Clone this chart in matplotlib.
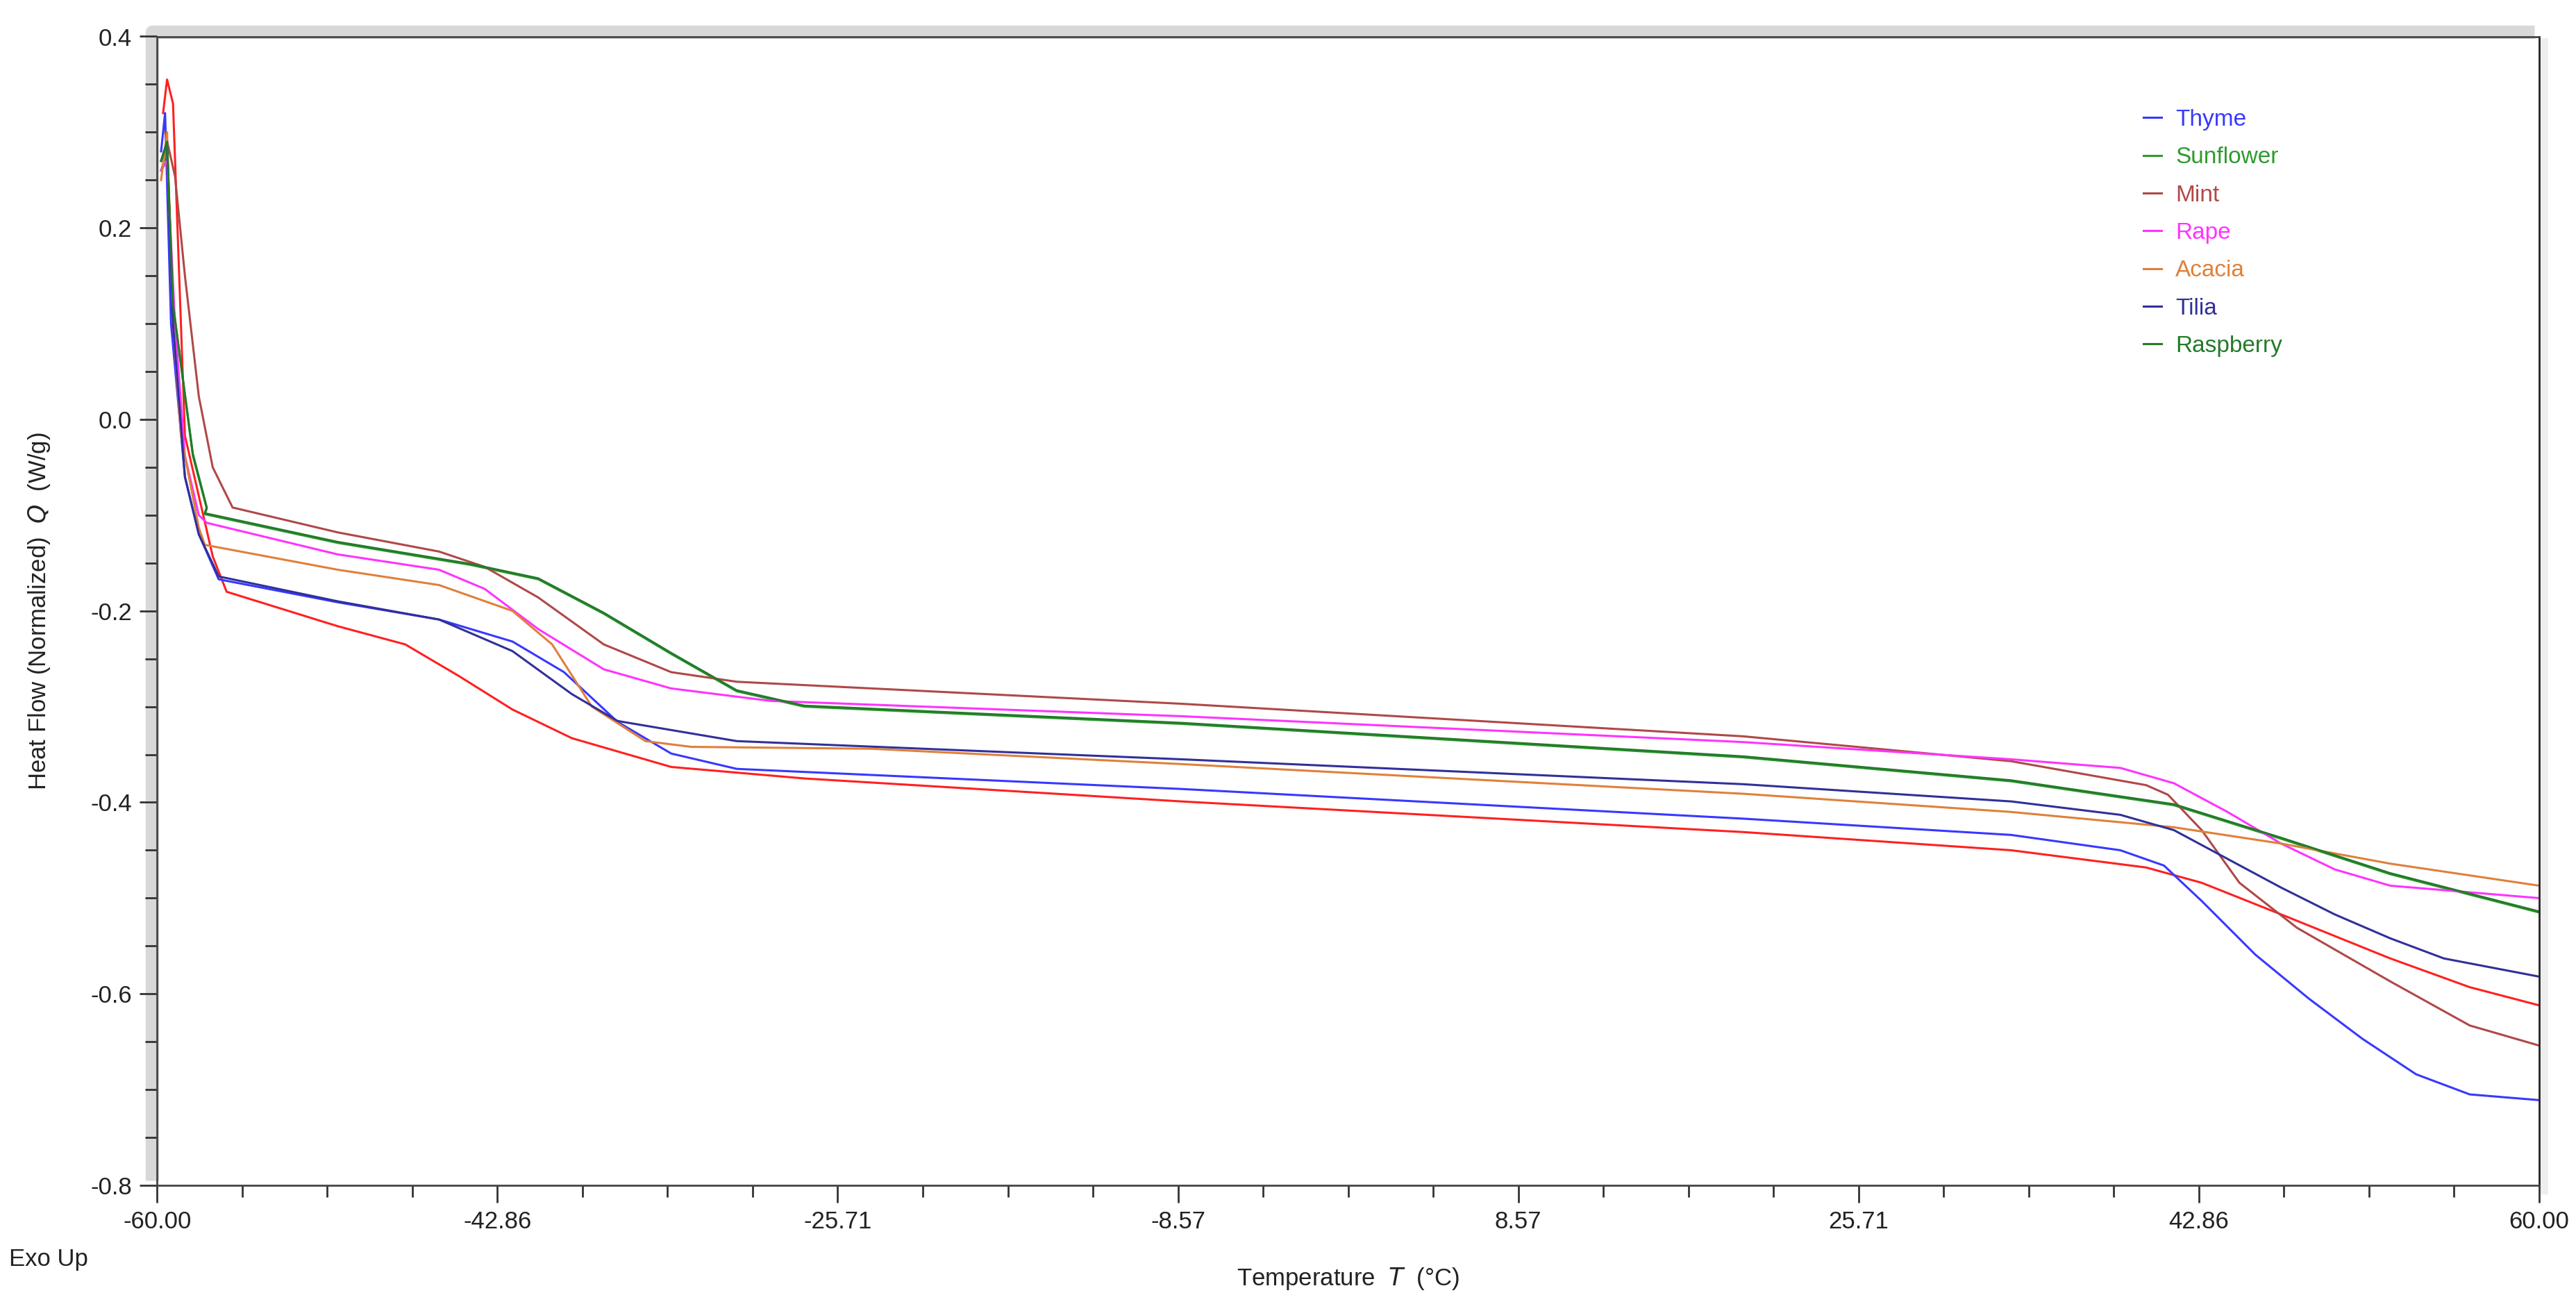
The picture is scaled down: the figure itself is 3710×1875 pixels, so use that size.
import numpy as np
import matplotlib
matplotlib.use('Agg')
import matplotlib.pyplot as plt
import matplotlib.transforms as mtransforms
from matplotlib.ticker import MultipleLocator, FixedLocator

plt.rcParams['font.family'] = ['Liberation Sans', 'DejaVu Sans']
plt.rcParams['axes.unicode_minus'] = False

# temperature (°C) / heat flow (W/g)
thyme_T = [-59.8, -59.6, -59.3, -58.6, -57.9, -56.9, -50.9, -45.8, -42.1, -39.5, -36.8, -34.1, -30.8, -8.4, 19.9, 33.4, 38.9, 41.1, 43.0, 45.7, 48.4, 51.1, 53.8, 56.5, 60.0]
thyme_Q = [0.28, 0.32, 0.10, -0.06, -0.12, -0.167, -0.191, -0.209, -0.232, -0.264, -0.316, -0.349, -0.365, -0.386, -0.417, -0.434, -0.45, -0.466, -0.503, -0.559, -0.605, -0.647, -0.684, -0.705, -0.711]

sunflower_T = [-59.8, -59.5, -59.2, -58.2, -57.5, -57.6, -50.9, -44.2, -40.8, -37.5, -34.1, -30.8, -27.4, -8.4, 19.9, 33.4, 41.6, 47.0, 52.5, 60.0]
sunflower_Q = [0.26, 0.28, 0.12, -0.038, -0.093, -0.099, -0.129, -0.152, -0.167, -0.203, -0.245, -0.284, -0.300, -0.318, -0.353, -0.378, -0.403, -0.438, -0.475, -0.515]

mint_T = [-59.6, -59.1, -58.6, -57.9, -57.2, -56.2, -50.9, -45.8, -43.5, -40.8, -37.5, -34.1, -30.8, -8.4, 19.9, 33.4, 40.2, 41.3, 43.0, 44.9, 47.8, 52.5, 56.5, 60.0]
mint_Q = [0.30, 0.254, 0.15, 0.024, -0.05, -0.092, -0.118, -0.138, -0.154, -0.186, -0.235, -0.264, -0.274, -0.297, -0.331, -0.357, -0.382, -0.392, -0.429, -0.484, -0.531, -0.587, -0.633, -0.654]

rape_T = [-59.8, -59.5, -59.1, -58.6, -57.9, -57.5, -50.9, -45.8, -43.5, -40.8, -37.5, -34.1, -29.1, -8.4, 19.9, 33.4, 38.9, 41.6, 44.3, 47.0, 49.7, 52.5, 60.0]
rape_Q = [0.26, 0.27, 0.10, -0.038, -0.10, -0.108, -0.141, -0.157, -0.177, -0.219, -0.261, -0.281, -0.294, -0.310, -0.337, -0.355, -0.364, -0.380, -0.410, -0.443, -0.470, -0.487, -0.500]

acacia_T = [-59.8, -59.5, -59.2, -58.8, -57.9, -57.6, -50.9, -45.8, -42.1, -40.1, -38.1, -35.4, -33.1, -24.0, -8.4, 19.9, 33.4, 41.6, 47.0, 52.5, 60.0]
acacia_Q = [0.25, 0.30, 0.10, -0.017, -0.113, -0.131, -0.157, -0.173, -0.200, -0.235, -0.300, -0.336, -0.342, -0.344, -0.360, -0.391, -0.410, -0.426, -0.443, -0.464, -0.487]

tilia_T = [-59.8, -59.5, -59.2, -58.6, -57.9, -56.9, -50.9, -45.8, -42.1, -39.1, -36.8, -30.8, -8.4, 19.9, 33.4, 38.9, 41.6, 44.3, 47.0, 49.7, 52.5, 55.2, 60.0]
tilia_Q = [0.27, 0.29, 0.10, -0.06, -0.12, -0.164, -0.190, -0.209, -0.242, -0.287, -0.315, -0.336, -0.355, -0.381, -0.399, -0.413, -0.429, -0.459, -0.489, -0.517, -0.542, -0.563, -0.582]

raspberry_T = [-59.8, -59.5, -59.2, -58.2, -57.5, -57.6, -50.9, -44.2, -40.8, -37.5, -34.1, -30.8, -27.4, -8.4, 19.9, 33.4, 41.6, 47.0, 52.5, 60.0]
raspberry_Q = [0.27, 0.29, 0.12, -0.036, -0.092, -0.098, -0.128, -0.151, -0.166, -0.202, -0.244, -0.283, -0.299, -0.317, -0.352, -0.377, -0.402, -0.437, -0.474, -0.514]

# unlabelled red trace
red_T = [-59.7, -59.5, -59.2, -58.6, -57.9, -57.2, -56.5, -50.9, -47.5, -44.8, -42.1, -39.1, -34.1, -27.4, -8.4, 19.9, 33.4, 40.2, 43.0, 47.0, 52.5, 56.5, 60.0]
red_Q = [0.32, 0.355, 0.33, -0.017, -0.08, -0.143, -0.180, -0.216, -0.235, -0.268, -0.303, -0.333, -0.363, -0.375, -0.399, -0.431, -0.450, -0.468, -0.484, -0.517, -0.563, -0.593, -0.612]

names = ['Thyme', 'Sunflower', 'Mint', 'Rape', 'Acacia', 'Tilia', 'Raspberry']
colors = ['#3838ff', '#2f9a2f', '#b04848', '#ff33ff', '#e0803a', '#30309a', '#237a2a']
series = [(thyme_T, thyme_Q), (sunflower_T, sunflower_Q), (mint_T, mint_Q), (rape_T, rape_Q),
          (acacia_T, acacia_Q), (tilia_T, tilia_Q), (raspberry_T, raspberry_Q)]

fig = plt.figure(figsize=(37.1, 18.75), dpi=100)
ax = fig.add_axes([0.061, 0.0896, 0.9247, 0.8824])

ax.plot(red_T, red_Q, color='#ff2020', lw=2.2)
for (T, Q), name, c in zip(series, names, colors):
    ax.plot(T, Q, color=c, lw=2.2, label=name)

ax.set_xlim(-60, 60)
ax.set_ylim(-0.8, 0.4)
xt = [-60 + 120 / 7 * k for k in range(8)]
ax.xaxis.set_major_locator(FixedLocator(xt))
ax.xaxis.set_minor_locator(FixedLocator([-60 + 120 / 28 * k for k in range(29)]))
ax.set_xticklabels([f'{v:.2f}' for v in xt])
ax.yaxis.set_major_locator(MultipleLocator(0.2))
ax.yaxis.set_minor_locator(MultipleLocator(0.05))
ax.set_yticklabels([f'{v:.1f}' for v in ax.get_yticks()])
ax.tick_params(which='major', direction='out', length=18, width=2, labelsize=25, pad=8, colors='#333333', labelcolor='#222222')
ax.tick_params(which='minor', direction='out', length=12, width=2, colors='#333333')

for s in ax.spines.values():
    s.set_linewidth(2)
    s.set_color('#444444')
ax.spines['right'].set_color('#222222')

# gray shadow band outside left and top axis lines
off = mtransforms.offset_copy(ax.transAxes, fig=fig, x=-7, y=7, units='dots')
ax.plot([0, 0, 1], [0, 1, 1], transform=off, color='#d8d8d8', lw=14, clip_on=False, zorder=-1, solid_capstyle='butt')
off2 = mtransforms.offset_copy(ax.transAxes, fig=fig, x=7, y=-7, units='dots')
ax.plot([1, 1], [0, 1], transform=off2, color='#eeeeee', lw=8, clip_on=False, zorder=-1)

ax.set_xlabel('Temperature  $\\it{T}$  (°C)', fontsize=25, color='#222222', labelpad=34)
ax.set_ylabel('Heat Flow (Normalized)  $\\it{Q}$  (W/g)', fontsize=25, color='#222222', labelpad=40)
fig.text(0.0035, 0.028, 'Exo Up', fontsize=25, color='#222222')

leg = ax.legend(loc='upper left', bbox_to_anchor=(0.825, 0.955), frameon=False, fontsize=24,
                labelcolor='linecolor', handlelength=0.8, handletextpad=0.6, labelspacing=0.7)
for h in leg.get_lines():
    h.set_linewidth(2.2)

fig.savefig('out.png', dpi=100)
